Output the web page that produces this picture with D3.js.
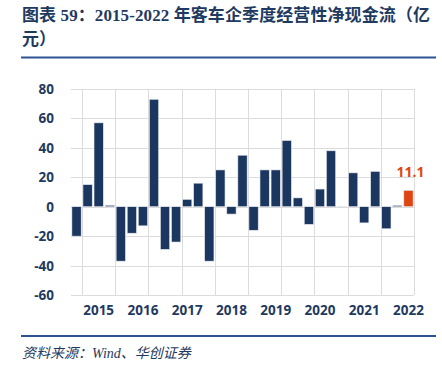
<!DOCTYPE html>
<html>
<head>
<meta charset="UTF-8">
<title>2015-2022 年客车企季度经营性净现金流</title>
<script src="https://d3js.org/d3.v7.min.js"></script>
<style>
  body { margin: 0; background: #fff; }
</style>
</head>
<body>
<div id="chart"></div>
<script>
// quarters shown on the category axis (2014Q3 .. 2022Q1)
var quarters = ["2014Q3","2014Q4",
  "2015Q1","2015Q2","2015Q3","2015Q4",
  "2016Q1","2016Q2","2016Q3","2016Q4",
  "2017Q1","2017Q2","2017Q3","2017Q4",
  "2018Q1","2018Q2","2018Q3","2018Q4",
  "2019Q1","2019Q2","2019Q3","2019Q4",
  "2020Q1","2020Q2","2020Q3","2020Q4",
  "2021Q1","2021Q2","2021Q3","2021Q4",
  "2022Q1"];
// net operating cash flow, 亿元
var cashFlow = [-20, 15,
  57, 1, -37, -18,
  -13, 73, -29, -24,
  5, 16, -37, 25,
  -5, 35, -16, 25,
  25, 45, 6, -12,
  12, 38, 0.2, 23,
  -11, 24, -15, 0.9,
  11.1];
var yearTicks = ["2015","2016","2017","2018","2019","2020","2021","2022"];
var yTicks = [80, 60, 40, 20, 0, -20, -40, -60];

var W = 442, H = 374;
// plot box (note: "top" is reserved on window, so use other names)
var pLeft = 71, pRight = 414, pTop = 89, pBottom = 295;
var navy = "#1b365f", orange = "#de4510", textCol = "#1f3a60";

var svg = d3.select("#chart").append("svg")
  .attr("width", W).attr("height", H);

// title
svg.append("text")
  .attr("x", 22).attr("y", 21)
  .attr("textLength", 408).attr("lengthAdjust", "spacing")
  .style("font-family", "'Liberation Serif', 'Noto Sans CJK SC', serif")
  .style("font-size", "17px").style("font-weight", "bold")
  .style("fill", textCol)
  .text("图表 59：2015-2022 年客车企季度经营性净现金流（亿");
svg.append("text")
  .attr("x", 22).attr("y", 45)
  .style("font-family", "'Liberation Serif', 'Noto Sans CJK SC', serif")
  .style("font-size", "17px").style("font-weight", "bold")
  .style("fill", textCol)
  .text("元）");

svg.append("line")
  .attr("x1", 21).attr("x2", 436).attr("y1", 57.5).attr("y2", 57.5)
  .style("stroke", "#2d5392").style("stroke-width", 2);

// scales
var x = d3.scaleBand().domain(quarters).range([pLeft, pRight]).paddingInner(0.16).paddingOuter(0.08);
var y = d3.scaleLinear().domain([-60, 80]).range([pBottom, pTop]);
var step = (pRight - pLeft) / quarters.length;

// horizontal grid
svg.append("g").selectAll("line").data(yTicks).enter().append("line")
  .attr("x1", pLeft).attr("x2", pRight)
  .attr("y1", function(d){ return Math.round(y(d)) + 0.5; })
  .attr("y2", function(d){ return Math.round(y(d)) + 0.5; })
  .style("stroke", "#dcdcdc").style("stroke-width", 1);

// vertical grid every 3 categories
var vIdx = d3.range(1, quarters.length + 1, 3);
svg.append("g").selectAll("line").data(vIdx).enter().append("line")
  .attr("x1", function(d){ return Math.round(pLeft + d * step) + 0.5; })
  .attr("x2", function(d){ return Math.round(pLeft + d * step) + 0.5; })
  .attr("y1", pTop).attr("y2", pBottom)
  .style("stroke", "#dcdcdc").style("stroke-width", 1);

// bars
svg.append("g").selectAll("rect").data(cashFlow).enter().append("rect")
  .attr("x", function(d, i){ return x(quarters[i]); })
  .attr("width", x.bandwidth())
  .attr("y", function(d){ return y(Math.max(0, d)); })
  .attr("height", function(d){ return Math.abs(y(d) - y(0)); })
  .style("fill", function(d, i){ return i === quarters.length - 1 ? orange : navy; })
  .style("stroke", "#e6e9ee").style("stroke-width", 0.6);

// last value label
var last = quarters.length - 1;
svg.append("text")
  .attr("x", x(quarters[last]) + x.bandwidth() / 2 + 2)
  .attr("y", y(cashFlow[last]) - 13)
  .attr("text-anchor", "middle")
  .style("font-family", "'Open Sans', sans-serif")
  .style("font-size", "14px").style("font-weight", "bold")
  .style("fill", orange)
  .text(cashFlow[last]);

// y labels
svg.append("g").selectAll("text").data(yTicks).enter().append("text")
  .attr("x", 54).attr("y", function(d){ return y(d) + 5; })
  .attr("text-anchor", "end")
  .style("font-family", "'Open Sans', sans-serif")
  .style("font-size", "13.5px").style("font-weight", "bold")
  .style("fill", textCol)
  .text(function(d){ return d; });

// x labels at Q1 of each year
svg.append("g").selectAll("text").data(yearTicks).enter().append("text")
  .attr("x", function(d){ return x(d + "Q1") + x.bandwidth() / 2; })
  .attr("y", 315)
  .attr("text-anchor", "middle")
  .style("font-family", "'Open Sans', sans-serif")
  .style("font-size", "13.5px").style("font-weight", "bold")
  .style("fill", textCol)
  .text(function(d){ return d; });

// source
svg.append("line")
  .attr("x1", 21).attr("x2", 436).attr("y1", 336).attr("y2", 336)
  .style("stroke", "#2d5392").style("stroke-width", 2);
svg.append("text")
  .attr("x", 22).attr("y", 358)
  .style("font-family", "'Liberation Serif', 'Noto Sans CJK SC', serif")
  .style("font-size", "14px").style("font-style", "italic")
  .style("fill", textCol)
  .text("资料来源：Wind、华创证券");
</script>
</body>
</html>
